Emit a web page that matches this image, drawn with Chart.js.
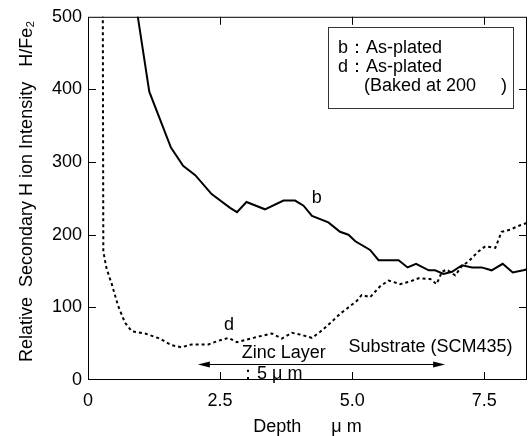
<!DOCTYPE html>
<html>
<head>
<meta charset="utf-8">
<script src="https://cdn.jsdelivr.net/npm/chart.js@4.4.1/dist/chart.umd.min.js"></script>
<style>
    html, body { margin: 0; padding: 0; background: #fff; }
    #wrap { width: 529px; height: 436px; }
</style>
</head>
<body>
<div id="wrap"><canvas id="chart" width="529" height="436"></canvas></div>
<script>
// curve b : as-plated
const bDepth = [0.88, 1.16, 1.57, 1.80, 2.03, 2.34, 2.69, 2.82, 3.00, 3.35, 3.70, 3.92, 4.08, 4.24,
    4.55, 4.77, 4.93, 5.06, 5.34, 5.50, 5.88, 6.05, 6.21, 6.45, 6.57, 6.73, 6.89, 7.08, 7.27, 7.45,
    7.64, 7.85, 8.04, 8.24, 8.35];
const bIntensity = [530, 397, 320, 295, 282, 256, 237, 231, 245, 235, 247, 247, 240, 226,
    217, 204, 200, 191, 179, 165, 165, 155, 160, 151, 151, 146, 149, 158, 155, 155,
    151, 160, 148, 151, 153];

// curve d : as-plated, baked
const dDepth = [0.28, 0.29, 0.35, 0.45, 0.57, 0.70, 0.83, 1.08, 1.36, 1.58, 1.77, 1.96, 2.28, 2.47,
    2.66, 2.82, 3.13, 3.48, 3.67, 3.86, 4.05, 4.24, 4.39, 4.58, 4.77, 4.93, 5.09, 5.18, 5.34, 5.53,
    5.69, 5.91, 6.07, 6.26, 6.48, 6.60, 6.70, 6.79, 6.95, 7.08, 7.20, 7.39, 7.52, 7.71, 7.83, 7.99,
    8.18, 8.34];
const dIntensity = [520, 177, 154, 132, 102, 79, 67, 64, 57, 48, 45, 49, 49, 54,
    58, 52, 58, 64, 57, 65, 62, 58, 66, 78, 91, 100, 109, 117, 114, 129,
    137, 132, 135, 140, 139, 132, 149, 152, 144, 157, 163, 177, 184, 182, 204, 207,
    213, 217];

const xTicks = [0, 2.5, 5, 7.5];
const yTicks = [0, 100, 200, 300, 400, 500];

const yTitle = 'Relative  Secondary H ion Intensity   H/Fe₂';
const xTitle = 'Depth      μ m';
const legendLines = ['b：As-plated', 'd：As-plated', '(Baked at 200     )'];

// labels on the plot, anchored (left, baseline) in data units
const notes = [
    { text: 'b', x: 4.235, y: 244 },
    { text: 'd', x: 2.576, y: 69 },
    { text: 'Zinc Layer', x: 2.91, y: 29.6 },
    { text: 'Substrate (SCM435)', x: 4.93, y: 38.6 },
    { text: '：5 μ m', x: 2.86, y: 1.5 },
];
const arrow = { from: 2.08, to: 6.76, y: 22.7 };

const FONT = '"Liberation Sans", Arial, Helvetica, sans-serif';
Chart.defaults.font.family = FONT;
Chart.defaults.font.size = 18;
Chart.defaults.color = '#000';

const toPoints = (xs, ys) => xs.map((x, i) => ({ x, y: ys[i] }));

const decorations = {
    id: 'decorations',
    afterDraw(chart) {
        const { ctx, chartArea: a, scales: { x, y } } = chart;
        ctx.save();
        ctx.strokeStyle = '#000';
        ctx.lineWidth = 1;

        // frame with inward ticks on all four sides
        ctx.strokeRect(a.left + 0.5, a.top + 0.5, a.right - a.left - 1, a.bottom - a.top - 1);
        ctx.beginPath();
        xTicks.slice(1).forEach(v => {
            const px = Math.round(x.getPixelForValue(v)) + 0.5;
            ctx.moveTo(px, a.bottom); ctx.lineTo(px, a.bottom - 8);
            ctx.moveTo(px, a.top); ctx.lineTo(px, a.top + 8);
        });
        yTicks.slice(1, -1).forEach(v => {
            const py = Math.round(y.getPixelForValue(v)) + 0.5;
            ctx.moveTo(a.left, py); ctx.lineTo(a.left + 8, py);
            ctx.moveTo(a.right, py); ctx.lineTo(a.right - 8, py);
        });
        ctx.stroke();

        // y title
        ctx.fillStyle = '#000';
        ctx.font = '18px ' + FONT;
        ctx.save();
        ctx.translate(32, 362);
        ctx.rotate(-Math.PI / 2);
        ctx.textAlign = 'left';
        ctx.textBaseline = 'alphabetic';
        ctx.fillText(yTitle, 0, 0);
        ctx.restore();

        // legend box
        ctx.fillStyle = '#fff';
        ctx.fillRect(328, 27, 185, 81);
        ctx.strokeStyle = '#333';
        ctx.strokeRect(328.5, 27.5, 185, 81);
        ctx.fillStyle = '#000';
        ctx.textAlign = 'left';
        ctx.textBaseline = 'alphabetic';
        ctx.fillText(legendLines[0], 338, 53);
        ctx.fillText(legendLines[1], 338, 71.5);
        ctx.fillText(legendLines[2], 364, 90.5);

        // notes
        notes.forEach(n => {
            ctx.fillText(n.text, x.getPixelForValue(n.x), y.getPixelForValue(n.y));
        });

        // double arrow
        const x1 = x.getPixelForValue(arrow.from);
        const x2 = x.getPixelForValue(arrow.to);
        const ay = Math.round(y.getPixelForValue(arrow.y)) + 0.5;
        ctx.strokeStyle = '#000';
        ctx.beginPath();
        ctx.moveTo(x1 + 4, ay); ctx.lineTo(x2 - 4, ay);
        ctx.stroke();
        ctx.beginPath();
        ctx.moveTo(x1, ay); ctx.lineTo(x1 + 12, ay - 3); ctx.lineTo(x1 + 12, ay + 3); ctx.closePath();
        ctx.moveTo(x2, ay); ctx.lineTo(x2 - 12, ay - 3); ctx.lineTo(x2 - 12, ay + 3); ctx.closePath();
        ctx.fill();
        ctx.restore();
    },
};

new Chart(document.getElementById('chart'), {
    type: 'line',
    data: {
        datasets: [{
            label: 'b',
            data: toPoints(bDepth, bIntensity),
            borderColor: '#000',
            borderWidth: 2,
            pointRadius: 0,
            tension: 0,
            clip: 0,
        }, {
            label: 'd',
            data: toPoints(dDepth, dIntensity),
            borderColor: '#000',
            borderWidth: 2,
            borderDash: [3, 3],
            pointRadius: 0,
            tension: 0,
            clip: 0,
        }],
    },
    options: {
        responsive: false,
        animation: false,
        devicePixelRatio: 1,
        layout: { padding: { top: 13, right: 2, left: 0, bottom: 0 } },
        plugins: { legend: { display: false }, tooltip: { enabled: false } },
        scales: {
            x: {
                type: 'linear',
                min: 0,
                max: 8.31,
                afterBuildTicks: s => { s.ticks = xTicks.map(value => ({ value })); },
                afterFit: s => { s.height = 56; },
                grid: { display: false, drawTicks: false },
                border: { display: false },
                ticks: {
                    padding: 10,
                    maxRotation: 0,
                    callback: v => (v === 0 ? '0' : v.toFixed(1)),
                },
                title: {
                    display: true,
                    text: xTitle,
                    font: { size: 18, lineHeight: 1 },
                    padding: 0,
                },
            },
            y: {
                min: 0,
                max: 500,
                afterBuildTicks: s => { s.ticks = yTicks.map(value => ({ value })); },
                afterFit: s => { s.width = 88; },
                grid: { display: false, drawTicks: false },
                border: { display: false },
                ticks: { padding: 6 },
            },
        },
    },
    plugins: [decorations],
});
</script>
</body>
</html>
